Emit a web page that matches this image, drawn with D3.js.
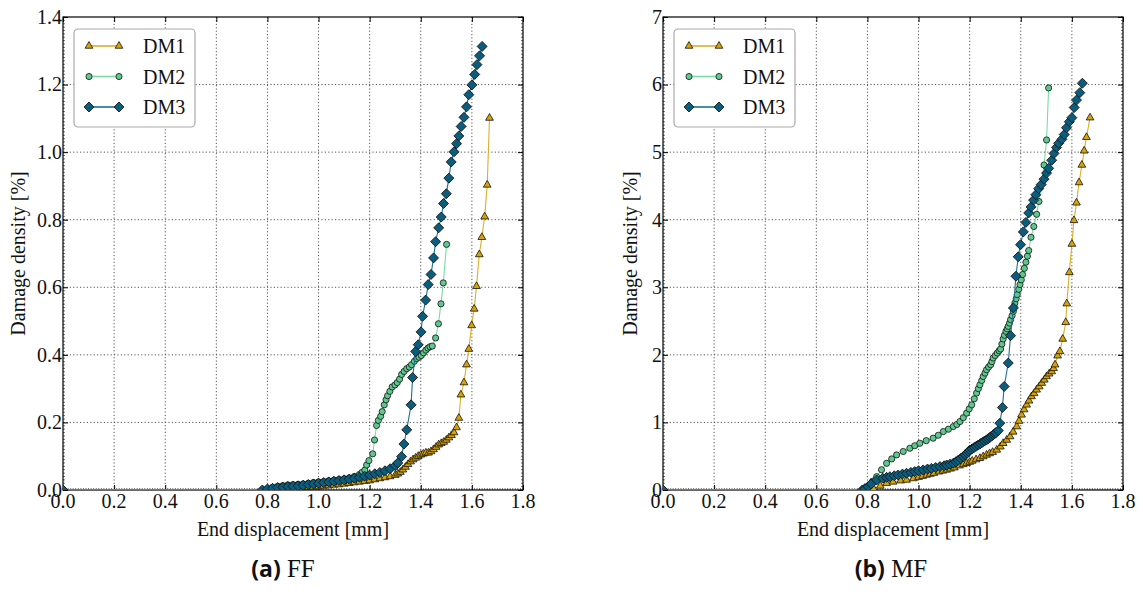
<!DOCTYPE html>
<html>
<head>
<meta charset="utf-8">
<script src="https://cdnjs.cloudflare.com/ajax/libs/d3/7.8.5/d3.min.js"></script>
<style>
    body { margin: 0; background: #fff; }
    svg text { font-family: "Liberation Serif", "DejaVu Serif", serif; fill: #111; }
    svg text tspan.tag { font-family: "Open Sans", "DejaVu Sans", sans-serif; font-weight: bold; }
</style>
</head>
<body>
<div id="chart"></div>
<script>

const SERIF = "'Liberation Serif', 'DejaVu Serif', serif";

// tick labels
const xTicks = [0, 0.2, 0.4, 0.6, 0.8, 1.0, 1.2, 1.4, 1.6, 1.8];
const ffYTicks = [0, 0.2, 0.4, 0.6, 0.8, 1.0, 1.2, 1.4];
const mfYTicks = [0, 1, 2, 3, 4, 5, 6, 7];
const seriesNames = ["DM1", "DM2", "DM3"];

// (a) FF, [end displacement, damage density]
const ffDM1 = [[0,0],[0.80,0],[0.82,0.001],[0.84,0.002],[0.86,0.003],[0.88,0.004],[0.90,0.005],[0.92,0.006],
    [0.94,0.007],[0.96,0.008],[0.98,0.009],[1.00,0.010],[1.02,0.012],[1.04,0.013],[1.06,0.015],[1.08,0.016],
    [1.10,0.018],[1.12,0.020],[1.14,0.022],[1.16,0.024],[1.18,0.026],[1.20,0.028],[1.22,0.031],[1.24,0.034],
    [1.26,0.037],[1.28,0.040],[1.30,0.044],[1.31,0.048],[1.32,0.053],[1.33,0.060],[1.34,0.068],[1.35,0.076],
    [1.36,0.084],[1.37,0.090],[1.38,0.095],[1.39,0.100],[1.40,0.104],[1.41,0.107],[1.42,0.110],[1.43,0.110],
    [1.44,0.114],[1.45,0.120],[1.46,0.127],[1.47,0.134],[1.48,0.138],[1.49,0.142],[1.50,0.148],[1.51,0.155],
    [1.52,0.162],[1.53,0.170],[1.54,0.185],[1.549,0.213],[1.557,0.282],[1.569,0.318],[1.579,0.371],[1.588,0.417],
    [1.599,0.487],[1.609,0.536],[1.618,0.603],[1.629,0.697],[1.639,0.748],[1.650,0.809],[1.660,0.903],[1.669,1.101]];

const ffDM2 = [[0,0],[0.78,0],[0.80,0.004],[0.82,0.008],[0.84,0.011],[0.86,0.013],[0.88,0.015],[0.90,0.016],
    [0.92,0.017],[0.94,0.018],[0.96,0.020],[0.98,0.022],[1.00,0.024],[1.02,0.025],[1.04,0.027],[1.06,0.029],
    [1.08,0.031],[1.10,0.033],[1.12,0.036],[1.14,0.040],[1.16,0.046],[1.17,0.052],[1.181,0.059],[1.188,0.074],
    [1.197,0.087],[1.212,0.107],[1.219,0.148],[1.227,0.191],[1.234,0.206],[1.243,0.218],[1.249,0.232],[1.257,0.252],
    [1.264,0.267],[1.270,0.279],[1.279,0.292],[1.288,0.305],[1.299,0.311],[1.308,0.318],[1.317,0.328],[1.325,0.342],
    [1.335,0.351],[1.345,0.359],[1.355,0.364],[1.364,0.371],[1.375,0.381],[1.384,0.389],[1.393,0.393],[1.402,0.398],
    [1.411,0.406],[1.420,0.414],[1.428,0.420],[1.436,0.424],[1.445,0.426],[1.458,0.450],[1.469,0.492],[1.479,0.551],
    [1.488,0.613],[1.501,0.727]];

const ffDM3 = [[0,0],[0.78,0],[0.80,0.003],[0.82,0.005],[0.84,0.007],[0.86,0.008],[0.88,0.010],[0.90,0.011],
    [0.92,0.012],[0.94,0.014],[0.96,0.016],[0.98,0.018],[1.00,0.020],[1.02,0.022],[1.04,0.024],[1.06,0.026],
    [1.08,0.028],[1.10,0.030],[1.12,0.032],[1.14,0.035],[1.16,0.038],[1.18,0.041],[1.20,0.044],[1.22,0.048],
    [1.24,0.052],[1.26,0.057],[1.28,0.063],[1.30,0.072],[1.31,0.080],[1.325,0.099],[1.334,0.136],[1.345,0.178],
    [1.362,0.252],[1.368,0.333],[1.380,0.410],[1.390,0.430],[1.401,0.468],[1.407,0.514],[1.419,0.562],[1.429,0.608],
    [1.440,0.638],[1.450,0.687],[1.458,0.735],[1.470,0.776],[1.480,0.808],[1.489,0.848],[1.500,0.877],[1.510,0.923],
    [1.519,0.971],[1.530,1.001],[1.540,1.025],[1.549,1.048],[1.558,1.076],[1.569,1.103],[1.579,1.134],[1.588,1.170],
    [1.600,1.199],[1.611,1.230],[1.620,1.259],[1.630,1.285],[1.640,1.313]];

// (b) MF
const mfDM1 = [[0,0],[0.80,0],[0.823,0.025],[0.85,0.06],[0.875,0.099],[0.90,0.12],[0.93,0.138],[0.953,0.148],
    [0.98,0.17],[1.00,0.19],[1.016,0.205],[1.032,0.222],[1.046,0.236],[1.06,0.25],[1.08,0.27],[1.095,0.283],
    [1.110,0.297],[1.125,0.313],[1.14,0.33],[1.16,0.36],[1.175,0.378],[1.188,0.396],[1.20,0.413],[1.21,0.43],
    [1.225,0.45],[1.24,0.47],[1.253,0.495],[1.266,0.519],[1.278,0.54],[1.29,0.56],[1.306,0.593],[1.32,0.64],
    [1.331,0.692],[1.345,0.74],[1.358,0.791],[1.37,0.86],[1.384,0.939],[1.393,1.02],[1.403,1.112],[1.413,1.19],
    [1.423,1.260],[1.432,1.32],[1.442,1.384],[1.452,1.43],[1.462,1.483],[1.472,1.53],[1.482,1.582],[1.492,1.63],
    [1.501,1.680],[1.511,1.72],[1.521,1.754],[1.528,1.80],[1.534,1.854],[1.544,1.987],[1.553,2.051],[1.564,2.235],
    [1.576,2.481],[1.580,2.758],[1.590,3.22],[1.600,3.64],[1.608,3.99],[1.618,4.25],[1.628,4.55],[1.639,4.81],
    [1.648,5.02],[1.657,5.22],[1.671,5.51]];

const mfDM2 = [[0,0],[0.78,0],[0.80,0.05],[0.82,0.13],[0.836,0.197],[0.855,0.30],[0.875,0.395],[0.895,0.46],
    [0.914,0.519],[0.94,0.57],[0.966,0.618],[0.985,0.655],[1.005,0.692],[1.03,0.73],[1.057,0.767],[1.077,0.81],
    [1.097,0.865],[1.117,0.90],[1.136,0.939],[1.15,0.97],[1.162,1.013],[1.175,1.07],[1.188,1.137],[1.198,1.20],
    [1.208,1.26],[1.218,1.35],[1.227,1.434],[1.234,1.50],[1.240,1.557],[1.247,1.62],[1.253,1.68],[1.260,1.73],
    [1.266,1.78],[1.274,1.82],[1.282,1.854],[1.287,1.90],[1.292,1.953],[1.300,1.99],[1.308,2.027],[1.315,2.06],
    [1.321,2.086],[1.326,2.16],[1.331,2.235],[1.336,2.29],[1.342,2.348],[1.347,2.385],[1.351,2.422],[1.356,2.47],
    [1.360,2.521],[1.366,2.58],[1.371,2.644],[1.374,2.71],[1.377,2.768],[1.382,2.83],[1.386,2.892],[1.392,2.97],
    [1.397,3.04],[1.402,3.11],[1.407,3.189],[1.414,3.28],[1.420,3.371],[1.426,3.46],[1.431,3.544],[1.440,3.74],
    [1.451,3.90],[1.462,4.08],[1.471,4.27],[1.491,4.81],[1.501,5.18],[1.509,5.95]];

const mfDM3 = [[0,0],[0.78,0],[0.79,0.02],[0.803,0.05],[0.815,0.09],[0.836,0.148],[0.86,0.175],[0.875,0.187],
    [0.888,0.197],[0.905,0.21],[0.92,0.222],[0.937,0.235],[0.953,0.247],[0.97,0.26],[0.985,0.272],[1.00,0.285],
    [1.018,0.297],[1.035,0.31],[1.05,0.32],[1.067,0.333],[1.084,0.346],[1.10,0.358],[1.11,0.37],[1.123,0.382],
    [1.136,0.396],[1.146,0.418],[1.155,0.44],[1.165,0.467],[1.175,0.494],[1.183,0.52],[1.19,0.545],[1.196,0.57],
    [1.201,0.593],[1.21,0.61],[1.218,0.63],[1.226,0.648],[1.234,0.667],[1.242,0.686],[1.25,0.705],[1.258,0.724],
    [1.266,0.742],[1.273,0.76],[1.28,0.78],[1.286,0.798],[1.292,0.816],[1.298,0.833],[1.303,0.85],[1.312,0.880],
    [1.318,0.989],[1.328,1.22],[1.335,1.532],[1.351,1.879],[1.360,2.284],[1.371,2.694],[1.381,3.164],[1.390,3.451],
    [1.399,3.63],[1.410,3.82],[1.420,3.96],[1.431,4.10],[1.440,4.19],[1.450,4.29],[1.459,4.37],[1.470,4.46],
    [1.480,4.52],[1.491,4.60],[1.501,4.69],[1.509,4.76],[1.521,4.88],[1.530,4.98],[1.540,5.07],[1.548,5.13],
    [1.561,5.19],[1.570,5.26],[1.579,5.36],[1.590,5.45],[1.600,5.51],[1.609,5.66],[1.618,5.77],[1.631,5.88],
    [1.641,6.02]];

class DamageVis {

    constructor(svg, config) {
        this.svg = svg;
        this.config = config;
        this.initVis();
    }

    initVis() {
        let vis = this;
        let c = vis.config;

        vis.width = 460;
        vis.height = 473;

        vis.g = vis.svg.append("g")
            .attr("transform", "translate(" + c.left + "," + c.top + ")");

        vis.x = d3.scaleLinear().domain([0, 1.8]).range([0, vis.width]);
        vis.y = d3.scaleLinear().domain([0, c.yMax]).range([vis.height, 0]);

        vis.styles = [
            {line: "#dcae2c", fill: "#d9a200", symbol: d3.symbolTriangle, size: 26, rotate: 0},
            {line: "#78dca4", fill: "#5ec88e", symbol: d3.symbolCircle, size: 30, rotate: 0},
            {line: "#1d7191", fill: "#0b5d7e", symbol: d3.symbolSquare, size: 50, rotate: 45}
        ];

        vis.clipId = "clip-" + c.id;
        vis.svg.append("clipPath").attr("id", vis.clipId)
            .append("rect")
            .attr("x", c.left).attr("y", c.top)
            .attr("width", vis.width).attr("height", vis.height);

        vis.drawAxes();
        vis.updateVis();
    }

    drawAxes() {
        let vis = this;
        let c = vis.config;

        // grid
        let grid = vis.g.append("g").attr("class", "grid")
            .attr("stroke", "#444").attr("stroke-width", 0.9).attr("stroke-dasharray", "1.2,2.2");
        grid.selectAll(".gx").data(xTicks.slice(1, -1)).enter().append("line")
            .attr("x1", d => vis.x(d)).attr("x2", d => vis.x(d))
            .attr("y1", 0).attr("y2", vis.height);
        grid.selectAll(".gy").data(c.yTicks.slice(1, -1)).enter().append("line")
            .attr("y1", d => vis.y(d)).attr("y2", d => vis.y(d))
            .attr("x1", 0).attr("x2", vis.width);

        // inside ticks on all four sides
        let xAxisB = d3.axisBottom(vis.x).tickValues(xTicks).tickSizeInner(-5).tickSizeOuter(0).tickFormat("");
        let xAxisT = d3.axisTop(vis.x).tickValues(xTicks).tickSizeInner(-5).tickSizeOuter(0).tickFormat("");
        let yAxisL = d3.axisLeft(vis.y).tickValues(c.yTicks).tickSizeInner(-5).tickSizeOuter(0).tickFormat("");
        let yAxisR = d3.axisRight(vis.y).tickValues(c.yTicks).tickSizeInner(-5).tickSizeOuter(0).tickFormat("");

        // minor ticks
        let minorY = d3.range(0, c.yMax + 1e-9, c.yStep / 20);
        let minorX = d3.range(0, 1.8 + 1e-9, 0.01);
        let minors = vis.g.append("g").attr("stroke", "#333").attr("stroke-width", 0.7);
        minors.selectAll(".ml").data(minorY).enter().append("line")
            .attr("x1", 0).attr("x2", 2).attr("y1", d => vis.y(d)).attr("y2", d => vis.y(d));
        minors.selectAll(".mr").data(minorY).enter().append("line")
            .attr("x1", vis.width).attr("x2", vis.width - 2).attr("y1", d => vis.y(d)).attr("y2", d => vis.y(d));
        minors.selectAll(".mb").data(minorX).enter().append("line")
            .attr("x1", d => vis.x(d)).attr("x2", d => vis.x(d)).attr("y1", vis.height).attr("y2", vis.height - 2);

        vis.g.append("g").attr("transform", "translate(0," + vis.height + ")").call(xAxisB);
        vis.g.append("g").call(xAxisT);
        vis.g.append("g").call(yAxisL);
        vis.g.append("g").attr("transform", "translate(" + vis.width + ",0)").call(yAxisR);
        vis.g.selectAll(".domain").remove();
        vis.g.selectAll(".tick line").attr("stroke", "#000").attr("stroke-width", 1);

        // frame
        vis.g.append("rect")
            .attr("width", vis.width).attr("height", vis.height)
            .attr("fill", "none").attr("stroke", "#000").attr("stroke-width", 1.2);

        // tick labels
        vis.g.selectAll(".xlab").data(xTicks).enter().append("text")
            .attr("x", d => vis.x(d)).attr("y", vis.height + 18)
            .attr("text-anchor", "middle").attr("font-size", 20).attr("font-family", SERIF)
            .text(d => d3.format(".1f")(d));
        vis.g.selectAll(".ylab").data(c.yTicks).enter().append("text")
            .attr("x", -1).attr("y", d => vis.y(d)).attr("dy", "0.34em")
            .attr("text-anchor", "end").attr("font-size", 20).attr("font-family", SERIF)
            .text(d => d3.format(c.yFormat)(d));

        // axis titles
        vis.g.append("text")
            .attr("x", vis.width / 2).attr("y", vis.height + 46)
            .attr("text-anchor", "middle").attr("font-size", 20).attr("font-family", SERIF)
            .text("End displacement [mm]");
        vis.g.append("text")
            .attr("transform", "translate(" + c.yLabelX + "," + vis.height / 2 + ") rotate(-90)")
            .attr("dy", "0.35em")
            .attr("text-anchor", "middle").attr("font-size", 20).attr("font-family", SERIF)
            .text("Damage density [%]");

        // caption
        let cap = vis.svg.append("text")
            .attr("x", c.captionX).attr("y", 577)
            .attr("text-anchor", "middle").attr("font-size", 25).attr("font-family", SERIF);
        cap.append("tspan").attr("class", "tag")
            .attr("font-family", "'Open Sans', 'DejaVu Sans', sans-serif")
            .attr("font-weight", "bold").attr("font-size", 23).text(c.captionTag);
        cap.append("tspan").text(" " + c.captionName);
    }

    updateVis() {
        let vis = this;
        let c = vis.config;

        let plot = vis.svg.append("g")
            .attr("clip-path", "url(#" + vis.clipId + ")")
            .append("g")
            .attr("transform", "translate(" + c.left + "," + c.top + ")");

        let line = d3.line().x(d => vis.x(d[0])).y(d => vis.y(d[1]));

        c.series.forEach((data, i) => {
            let s = vis.styles[i];
            let grp = plot.append("g");
            grp.append("path")
                .datum(data)
                .attr("d", line)
                .attr("fill", "none")
                .attr("stroke", s.line)
                .attr("stroke-width", 1.1);
            grp.selectAll("path.marker")
                .data(data)
                .enter()
                .append("path")
                .attr("class", "marker")
                .attr("d", d3.symbol().type(s.symbol).size(s.size))
                .attr("transform", d => "translate(" + vis.x(d[0]) + "," + vis.y(d[1]) + ") rotate(" + s.rotate + ")")
                .attr("fill", s.fill)
                .attr("stroke", "#111")
                .attr("stroke-width", 0.8);
        });

        // legend
        let lg = vis.svg.append("g").attr("transform", "translate(" + c.legendX + ",29)");
        lg.append("rect")
            .attr("width", 121).attr("height", 98).attr("rx", 4)
            .attr("fill", "#fff").attr("stroke", "#aaa").attr("stroke-width", 1.2);
        seriesNames.forEach((name, i) => {
            let s = vis.styles[i];
            let yy = 17 + i * 30.5;
            lg.append("line")
                .attr("x1", 15).attr("x2", 45).attr("y1", yy).attr("y2", yy)
                .attr("stroke", s.line).attr("stroke-width", 1.6);
            [15, 45].forEach(xx => {
                lg.append("path")
                    .attr("d", d3.symbol().type(s.symbol).size(s.size)())
                    .attr("transform", "translate(" + xx + "," + yy + ") rotate(" + s.rotate + ")")
                    .attr("fill", s.fill).attr("stroke", "#111").attr("stroke-width", 0.8);
            });
            lg.append("text")
                .attr("x", 69).attr("y", yy).attr("dy", "0.35em")
                .attr("font-size", 20).attr("font-family", SERIF)
                .text(name);
        });
    }
}

const svg = d3.select("#chart").append("svg")
    .attr("width", 1143)
    .attr("height", 594)
    .attr("font-family", SERIF);

new DamageVis(svg, {
    id: "ff", left: 63, top: 17, yMax: 1.4, yStep: 0.2, yTicks: ffYTicks, yFormat: ".1f",
    yLabelX: -45, legendX: 74, captionX: 283, captionTag: "(a)", captionName: "FF",
    series: [ffDM1, ffDM2, ffDM3]
});

new DamageVis(svg, {
    id: "mf", left: 663, top: 17, yMax: 7, yStep: 1, yTicks: mfYTicks, yFormat: "d",
    yLabelX: -33, legendX: 674, captionX: 891, captionTag: "(b)", captionName: "MF",
    series: [mfDM1, mfDM2, mfDM3]
});

</script>
</body>
</html>
